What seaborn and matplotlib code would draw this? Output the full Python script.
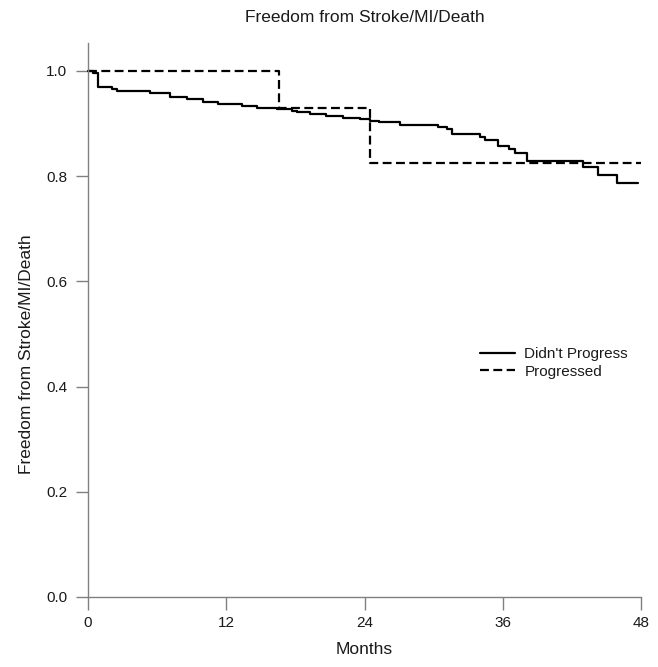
import numpy as np
import pandas as pd
import matplotlib
matplotlib.use("Agg")
import matplotlib.pyplot as plt
import seaborn as sns
from matplotlib.lines import Line2D

# Kaplan-Meier step estimates (months, survival probability)
months_no_prog = [0, 0.4, 0.9, 2.1, 2.5, 5.4, 7.1, 8.6, 10.0, 11.3, 13.4, 14.7,
                  16.4, 17.7, 18.1, 19.3, 20.7, 22.1, 23.6, 24.5, 25.3, 27.1,
                  30.4, 31.2, 31.6, 34.0, 34.5, 35.6, 36.5, 37.1, 38.1, 43.0,
                  44.3, 45.9, 47.7]
surv_no_prog = [1.0, 0.996, 0.970, 0.966, 0.962, 0.958, 0.950, 0.946, 0.941,
                0.938, 0.934, 0.930, 0.927, 0.924, 0.921, 0.918, 0.915, 0.911,
                0.908, 0.905, 0.902, 0.898, 0.894, 0.889, 0.880, 0.875, 0.869,
                0.858, 0.852, 0.844, 0.829, 0.817, 0.802, 0.787, 0.787]

months_prog = [0, 16.6, 24.5, 48.0]
surv_prog = [1.0, 0.929, 0.825, 0.825]

groups = ["Didn't Progress", "Progressed"]
x_ticks = [0, 12, 24, 36, 48]
y_ticks = [0.0, 0.2, 0.4, 0.6, 0.8, 1.0]
title = "Freedom from Stroke/MI/Death"

df = pd.concat([
    pd.DataFrame({"Months": months_no_prog, "surv": surv_no_prog, "group": groups[0]}),
    pd.DataFrame({"Months": months_prog, "surv": surv_prog, "group": groups[1]}),
], ignore_index=True)

sns.set_style("ticks")
plt.rcParams["font.family"] = ["Liberation Sans", "DejaVu Sans"]

fig = plt.figure(figsize=(6.58, 6.67), dpi=100)
ax = fig.add_axes([88 / 658, 1 - 597 / 667, 553 / 658, 554 / 667])

sns.lineplot(data=df, x="Months", y="surv", style="group", style_order=groups,
             dashes={groups[0]: "", groups[1]: (4, 2)}, color="black",
             estimator=None, sort=True, drawstyle="steps-post",
             linewidth=1.6, ax=ax, legend=False)
for ln in ax.lines:
    ln.set_clip_on(False)

ax.set_xlim(0, 48)
ax.set_ylim(0, 1.053)
ax.set_xticks(x_ticks)
ax.set_xticklabels([str(t) for t in x_ticks])
ax.set_yticks(y_ticks)
ax.set_yticklabels([f"{t:.1f}" for t in y_ticks])

for side in ("top", "right"):
    ax.spines[side].set_visible(False)
for side in ("left", "bottom"):
    ax.spines[side].set_color("#808080")
    ax.spines[side].set_linewidth(1.0)
ax.tick_params(axis="both", colors="#808080", labelcolor="#1a1a1a",
               length=9, width=1.0, labelsize=11, pad=6)
ax.tick_params(axis="x", pad=5)

ax.set_xlabel("Months", fontsize=12.5, color="#1a1a1a")
ax.xaxis.set_label_coords(0.5, -(642 - 597) / 554)
ax.set_ylabel(title, fontsize=12.5, color="#1a1a1a")
ax.yaxis.set_label_coords(-(88 - 34) / 553, (597 - 354) / 554)
ax.set_title(title, fontsize=12.5, color="#1a1a1a", y=1 + (43 - 17) / 554,
             va="center", pad=0)

handles = [Line2D([], [], color="black", lw=1.6),
           Line2D([], [], color="black", lw=1.6, dashes=(4, 2))]
leg = ax.legend(handles, groups, frameon=False, loc="center left",
                bbox_to_anchor=((480 - 88) / 553, (597 - 363) / 554),
                borderaxespad=0, borderpad=0, handlelength=2.3,
                handletextpad=0.6, labelspacing=0.2, fontsize=11)
for t in leg.get_texts():
    t.set_color("#1a1a1a")

fig.savefig("out.png", dpi=100, facecolor="white")
